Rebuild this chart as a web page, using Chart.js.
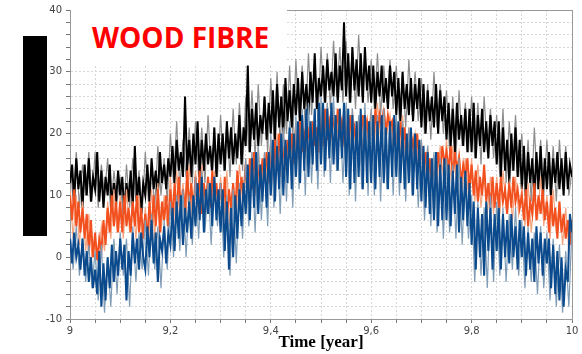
<!DOCTYPE html>
<html>
<head>
<meta charset="utf-8">
<script src="https://cdn.jsdelivr.net/npm/chart.js@4.4.1/dist/chart.umd.min.js"></script>
<style>
  html, body { margin: 0; padding: 0; background: #fff; }
  #wrap { position: relative; width: 582px; height: 354px; }
  #titlebox { position: absolute; left: 71px; top: 0; width: 216px; height: 65px; background: #fff; }
  #titlebox span { position: absolute; left: 21px; top: 18px; font: bold 28px "Open Sans"; color: #ff0000; white-space: nowrap; }
  #blackbar { position: absolute; left: 23px; top: 36px; width: 24px; height: 200px; background: #000; }
</style>
</head>
<body>
<div id="wrap">
  <canvas id="chart" width="582" height="354"></canvas>
  <div id="titlebox"><span>WOOD FIBRE</span></div>
  <div id="blackbar"></div>
</div>
<script>
// 12 samples per 0.05 year
let black = [
  12, 15, 9, 16, 11, 14, 8, 15, 10, 16, 9, 13,
  11, 17, 9, 14, 8, 13, 10, 15, 8, 12, 9, 14,
  10, 13, 7, 12, 9, 14, 8, 18, 9, 13, 7, 12,
  10, 15, 9, 16, 11, 14, 10, 17, 12, 15, 11, 16,
  13, 18, 12, 19, 14, 17, 13, 26, 14, 19, 13, 20,
  15, 22, 13, 19, 14, 20, 15, 18, 14, 21, 13, 20,
  15, 20, 14, 22, 16, 21, 15, 20, 16, 23, 15, 21,
  18, 31, 17, 24, 19, 25, 18, 23, 20, 26, 19, 25,
  20, 27, 19, 28, 21, 26, 20, 29, 22, 27, 21, 28,
  23, 29, 22, 30, 24, 28, 23, 30, 25, 33, 24, 29,
  26, 31, 25, 32, 27, 30, 26, 33, 25, 31, 27, 38,
  26, 33, 25, 34, 27, 32, 26, 33, 25, 34, 27, 31,
  25, 31, 24, 30, 26, 31, 25, 29, 24, 31, 26, 30,
  23, 29, 22, 30, 24, 28, 23, 29, 22, 28, 24, 29,
  21, 28, 20, 27, 22, 26, 21, 28, 20, 27, 22, 26,
  19, 25, 18, 24, 17, 25, 19, 23, 18, 24, 17, 24,
  17, 25, 16, 23, 18, 24, 17, 22, 16, 23, 18, 22,
  15, 22, 13, 21, 14, 19, 12, 20, 14, 21, 13, 19,
  11, 18, 10, 17, 12, 16, 10, 17, 11, 18, 10, 16,
  11, 17, 10, 16, 12, 17, 11, 16, 10, 17, 11, 15,
  13
];
// grey companion of the black curve, 8 samples per 0.05 year
let blackLight = [
  16, 9, 17, 8, 15, 10, 17, 9,
  17, 8, 15, 10, 16, 7, 14, 9,
  13, 6, 15, 8, 16, 9, 14, 7,
  17, 9, 15, 8, 18, 10, 16, 9,
  20, 12, 22, 11, 19, 13, 21, 12,
  22, 13, 21, 12, 23, 14, 20, 13,
  23, 14, 22, 13, 24, 15, 25, 14,
  26, 17, 27, 16, 28, 18, 26, 17,
  29, 19, 30, 18, 28, 20, 31, 19,
  32, 22, 31, 21, 33, 23, 32, 22,
  34, 25, 33, 24, 35, 26, 34, 25,
  35, 25, 34, 24, 36, 26, 33, 25,
  32, 24, 33, 23, 31, 25, 32, 24,
  31, 22, 30, 21, 32, 23, 30, 22,
  29, 20, 28, 19, 30, 21, 28, 20,
  27, 17, 26, 16, 27, 18, 25, 17,
  26, 16, 25, 15, 26, 17, 24, 16,
  23, 13, 24, 12, 22, 14, 23, 13,
  20, 10, 19, 9, 21, 11, 19, 10,
  19, 10, 18, 9, 19, 11, 18, 10,
  14
];
let orange = [
  10, 6, 11, 5, 9, 4, 8, 3, 7, 1, 6, 0,
  4, -0.5, 3, 1, 6, 2, 8, 4, 10, 5, 9, 4,
  9, 4, 10, 5, 8, 4, 9, 5, 10, 4, 8, 3,
  7, 3, 9, 4, 10, 5, 11, 4, 9, 6, 10, 5,
  11, 6, 12, 7, 13, 8, 11, 7, 14, 8, 12, 7,
  13, 8, 14, 7, 12, 9, 13, 8, 14, 9, 12, 8,
  12, 7, 13, 6, 11, 8, 12, 7, 14, 9, 13, 10,
  15, 10, 16, 11, 17, 12, 15, 11, 16, 13, 17, 12,
  18, 13, 19, 14, 20, 15, 18, 14, 19, 16, 20, 15,
  21, 16, 22, 17, 20, 18, 21, 17, 22, 18, 21, 17,
  23, 18, 24, 19, 22, 20, 23, 19, 24, 20, 22, 19,
  22, 18, 23, 19, 21, 18, 22, 19, 23, 20, 22, 19,
  23, 19, 24, 20, 23, 21, 24, 20, 23, 21, 22, 19,
  21, 17, 22, 18, 21, 16, 20, 17, 19, 16, 20, 15,
  18, 14, 17, 13, 16, 12, 15, 13, 17, 14, 18, 15,
  17, 14, 18, 13, 17, 14, 16, 12, 15, 13, 16, 11,
  15, 10, 14, 9, 13, 10, 15, 9, 12, 8, 13, 8,
  12, 8, 13, 9, 11, 7, 12, 8, 13, 9, 11, 8,
  10, 6, 11, 5, 9, 7, 12, 6, 10, 7, 11, 6,
  9, 4, 10, 5, 8, 3, 9, 4, 7, 3, 6, 2,
  6
];
let orangeLight = [
  11, 3, 10, 2, 9, 1, 7, 0,
  2, -1, 5, 1, 9, 3, 11, 4,
  10, 3, 11, 4, 9, 3, 10, 2,
  8, 2, 11, 3, 12, 4, 10, 5,
  13, 5, 14, 6, 12, 7, 15, 6,
  14, 7, 15, 6, 13, 8, 14, 7,
  13, 6, 14, 5, 12, 7, 15, 9,
  16, 9, 17, 10, 18, 11, 17, 12,
  19, 12, 20, 13, 21, 14, 20, 15,
  22, 15, 23, 16, 21, 17, 23, 16,
  24, 17, 25, 18, 23, 19, 24, 18,
  23, 17, 24, 18, 22, 17, 23, 19,
  24, 18, 25, 19, 24, 20, 23, 18,
  22, 16, 23, 15, 21, 16, 20, 14,
  19, 13, 18, 11, 16, 12, 18, 13,
  19, 12, 18, 13, 17, 11, 16, 10,
  16, 9, 15, 8, 14, 7, 13, 7,
  13, 7, 14, 8, 12, 6, 13, 7,
  11, 5, 12, 4, 10, 6, 13, 5,
  10, 3, 11, 4, 9, 2, 8, 1,
  5
];
let blue = [
  3, -1, 4, 0, 2, -2, 3, -3, 1, -4, 0, -5,
  -2, -6, 1, -8, -1, -7, 0, -5, 2, -4, 1, -3,
  3, -2, 2, -7, 1, -3, 4, -1, 3, -2, 4, 0,
  -2, 5, 0, 6, -1, 4, -4, 3, 1, 5, -1, 4,
  2, 8, 1, 9, 3, 10, 2, 8, 4, 9, 3, 10,
  5, 12, 6, 13, 4, 11, 7, 12, 5, 13, 6, 11,
  4, 11, 1, 9, -2, 8, 0, 10, 3, 11, 5, 12,
  7, 15, 6, 16, 8, 17, 7, 15, 9, 16, 8, 17,
  10, 19, 9, 18, 11, 20, 10, 19, 12, 21, 11, 20,
  13, 22, 12, 23, 14, 24, 13, 22, 15, 24, 14, 25,
  15, 25, 14, 24, 16, 25, 15, 23, 14, 24, 16, 25,
  13, 24, 11, 23, 12, 22, 13, 24, 11, 23, 12, 22,
  12, 23, 11, 22, 13, 23, 12, 21, 11, 22, 13, 23,
  13, 22, 12, 21, 11, 20, 12, 21, 10, 20, 11, 19,
  9, 18, 8, 17, 7, 16, 6, 17, 5, 15, 6, 16,
  6, 15, 5, 14, 7, 15, 4, 13, 6, 14, 5, 12,
  2, 9, -2, 8, 0, 7, -3, 9, 1, 8, -2, 7,
  1, 8, -2, 7, 0, 6, -1, 7, 0, 5, -2, 6,
  0, 5, -3, 4, -2, 3, -4, 5, -1, 4, -3, 3,
  -1, 3, -5, 2, -6, 1, -7, 0, -8, -2, -4, 7,
  4
];
let blueLight = [
  4, -2, 5, -3, 3, -4, 2, -5,
  1, -7, 2, -9, 0, -8, 3, -6,
  4, -3, 3, -8, 5, -4, 4, -2,
  6, -3, 7, -2, 5, -5, 6, -2,
  9, 0, 10, 1, 11, 0, 10, 2,
  13, 3, 14, 4, 12, 2, 13, 5,
  12, 0, 10, -3, 11, -1, 12, 3,
  16, 5, 17, 4, 18, 6, 17, 5,
  20, 8, 19, 7, 21, 9, 22, 8,
  23, 11, 24, 10, 25, 12, 24, 11,
  26, 13, 25, 12, 26, 14, 24, 12,
  25, 10, 24, 9, 23, 11, 25, 10,
  24, 10, 23, 9, 24, 11, 22, 10,
  23, 10, 22, 9, 21, 10, 20, 8,
  19, 6, 18, 5, 17, 4, 16, 3,
  16, 4, 15, 3, 16, 2, 14, 3,
  10, -4, 9, -3, 8, -5, 10, -4,
  9, -3, 8, -4, 7, -2, 8, -3,
  6, -5, 5, -4, 4, -6, 5, -5,
  4, -7, 3, -8, 2, -9, 1, -8,
  5
];

// samples are evenly spread over 9.0 .. 10.0 year
function toPoints(vals) {
  return vals.map((v, i) => ({ x: 9 + i / (vals.length - 1), y: v }));
}

// grey frame round the plot area
const frame = {
  id: "frame",
  beforeDatasetsDraw(chart) {
    const a = chart.chartArea;
    const ctx = chart.ctx;
    ctx.save();
    ctx.strokeStyle = "#999";
    ctx.lineWidth = 1;
    ctx.strokeRect(a.left + 0.5, a.top + 0.5, a.right - a.left, a.bottom - a.top);
    ctx.restore();
  },
};

let ctx = document.getElementById("chart").getContext("2d");
let chart1 = new Chart(ctx, {
  type: "line",
  data: {
    datasets: [
      { data: toPoints(blue), borderColor: "#0b4a8c", borderWidth: 2, order: 0 },
      { data: toPoints(blueLight), borderColor: "#7f9cb6", order: 1 },
      { data: toPoints(orange), borderColor: "#f2501e", borderWidth: 2, order: 2 },
      { data: toPoints(orangeLight), borderColor: "#f5a47f", order: 3 },
      { data: toPoints(black), borderColor: "#000000", borderWidth: 2, order: 4 },
      { data: toPoints(blackLight), borderColor: "#8c8c8c", order: 5 },
    ],
  },
  options: {
    responsive: false,
    animation: false,
    layout: { padding: { top: 4, right: 10, left: 0, bottom: 0 } },
    plugins: { legend: { display: false }, tooltip: { enabled: false } },
    elements: {
      point: { radius: 0 },
      line: { borderWidth: 1.2, tension: 0, borderJoinStyle: "miter" },
    },
    scales: {
      x: {
        type: "linear",
        min: 9,
        max: 10,
        afterFit: (s) => { s.height = 35; },
        grid: { color: "#d6d6d6", tickColor: "#777", tickLength: 4, tickBorderDash: [] },
        border: { color: "#777", dash: [2, 2] },
        ticks: {
          stepSize: 0.05,
          autoSkip: false,
          maxRotation: 0,
          padding: 2,
          color: "#444",
          font: { family: "DejaVu Sans", size: 10 },
          callback: (v) => {
            let r = Math.round(v * 100);
            return r % 20 === 0 ? String(r / 100).replace(".", ",") : "";
          },
        },
        title: {
          display: true,
          text: "Time [year]",
          color: "#000",
          font: { family: "Liberation Serif", size: 17, weight: "bold" },
          padding: { top: 0, bottom: 1 },
        },
      },
      y: {
        min: -10,
        max: 40,
        afterFit: (s) => { s.width = 70; },
        grid: { color: "#d6d6d6", tickColor: "#777", tickLength: 4, tickBorderDash: [] },
        border: { color: "#777", dash: [2, 2] },
        ticks: {
          stepSize: 2,
          autoSkip: false,
          padding: 4,
          color: "#444",
          font: { family: "DejaVu Sans", size: 10 },
          callback: (v) => (v % 10 === 0 ? v : ""),
        },
      },
    },
  },
  plugins: [frame],
});
</script>
</body>
</html>
